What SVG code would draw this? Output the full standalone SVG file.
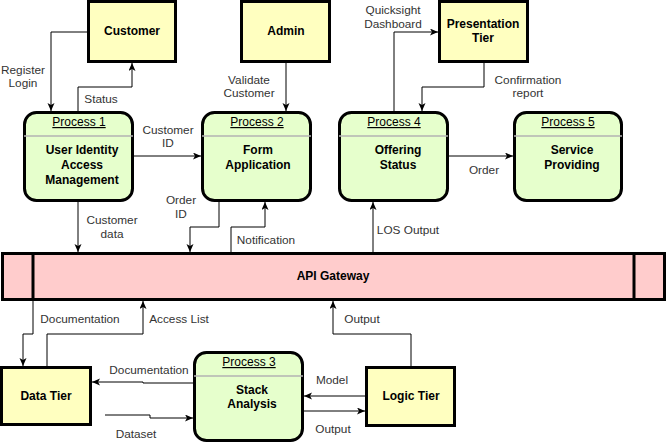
<svg xmlns="http://www.w3.org/2000/svg" width="667" height="447" viewBox="0 0 667 447">
<style>
.ext{fill:#FFFFC0;stroke:#000;stroke-width:3}
.proc{fill:#E6FFCC;stroke:#000;stroke-width:3}
.api{fill:#FFCCCC;stroke:#000;stroke-width:3}
.sep{stroke:#B3B3B3;stroke-width:1.5}
.nt{font-family:"Liberation Sans",Arial,sans-serif;font-size:12px;font-weight:bold;fill:#000;text-anchor:middle}
.hd{text-decoration:underline;font-weight:normal}
.lb{font-family:"Liberation Sans",Arial,sans-serif;font-size:11.8px;fill:#333;text-anchor:middle}
.ln{fill:none;stroke:#000;stroke-width:1;marker-end:url(#ar)}
</style>
<defs>
<marker id="ar" markerUnits="userSpaceOnUse" markerWidth="10" markerHeight="8" refX="8" refY="3.5" orient="auto">
<path d="M0,0 L8,3.5 L0,7 L2,3.5 z" fill="#000"/>
</marker>
</defs>
<g id="connectors">
<path class="ln" d="M87,32 H51 V111"/>
<path class="ln" d="M78,111 V87 H132 V63"/>
<path class="ln" d="M134,156 H201"/>
<path class="ln" d="M286,63 V111"/>
<path class="ln" d="M78,202 V252"/>
<path class="ln" d="M219,202 V227 H190 V252"/>
<path class="ln" d="M231,252 V227 H265 V202"/>
<path class="ln" d="M394,111 V32 H438"/>
<path class="ln" d="M484,63 V87 H422 V111"/>
<path class="ln" d="M449,156 H513"/>
<path class="ln" d="M373,252 V202"/>
<path class="ln" d="M33,301 V334 H23 V366"/>
<path class="ln" d="M47,366 V334 H143 V301"/>
<path class="ln" d="M193,383 H143 V382 H92"/>
<path class="ln" d="M105,415 H150 V418 H193"/>
<path class="ln" d="M365,396 H304"/>
<path class="ln" d="M304,411 H365"/>
<path class="ln" d="M411,366 V334 H333 V301"/>
<text class="lb" x="23" y="74">Register</text>
<text class="lb" x="23" y="87">Login</text>
<text class="lb" x="101" y="103">Status</text>
<text class="lb" x="168" y="134">Customer</text>
<text class="lb" x="168" y="147">ID</text>
<text class="lb" x="249" y="84">Validate</text>
<text class="lb" x="249" y="97">Customer</text>
<text class="lb" x="112" y="224">Customer</text>
<text class="lb" x="112" y="238">data</text>
<text class="lb" x="181" y="204">Order</text>
<text class="lb" x="181" y="218">ID</text>
<text class="lb" x="266" y="244">Notification</text>
<text class="lb" x="393" y="14">Quicksight</text>
<text class="lb" x="393" y="28">Dashboard</text>
<text class="lb" x="528" y="84">Confirmation</text>
<text class="lb" x="528" y="97">report</text>
<text class="lb" x="484" y="174">Order</text>
<text class="lb" x="408" y="234">LOS Output</text>
<text class="lb" x="80" y="323">Documentation</text>
<text class="lb" x="179" y="323">Access List</text>
<text class="lb" x="149" y="374">Documentation</text>
<text class="lb" x="136" y="438">Dataset</text>
<text class="lb" x="332" y="384">Model</text>
<text class="lb" x="333" y="433">Output</text>
<text class="lb" x="362" y="323">Output</text>
</g>
<g id="customer">
<rect class="ext" x="88.5" y="1.5" width="87" height="60"/>
<text class="nt" x="132" y="35">Customer</text>
</g>
<g id="admin">
<rect class="ext" x="241.5" y="1.5" width="88" height="60"/>
<text class="nt" x="286" y="35">Admin</text>
</g>
<g id="presentation-tier">
<rect class="ext" x="439.5" y="1.5" width="88" height="60"/>
<text class="nt" x="483" y="28">Presentation</text>
<text class="nt" x="483" y="42">Tier</text>
</g>
<g id="process1">
<rect class="proc" x="24.5" y="112.5" width="108" height="88" rx="12"/>
<line class="sep" x1="24" y1="136" x2="133" y2="136"/>
<text class="nt hd" x="79" y="126">Process 1</text>
<text class="nt" x="82" y="154">User Identity</text>
<text class="nt" x="82" y="169">Access</text>
<text class="nt" x="82" y="184">Management</text>
</g>
<g id="process2">
<rect class="proc" x="202.5" y="112.5" width="108" height="88" rx="12"/>
<line class="sep" x1="202" y1="136" x2="311" y2="136"/>
<text class="nt hd" x="257" y="126">Process 2</text>
<text class="nt" x="258" y="154">Form</text>
<text class="nt" x="258" y="169">Application</text>
</g>
<g id="process4">
<rect class="proc" x="339.5" y="112.5" width="108" height="88" rx="12"/>
<line class="sep" x1="339" y1="136" x2="448" y2="136"/>
<text class="nt hd" x="394" y="126">Process 4</text>
<text class="nt" x="398" y="154">Offering</text>
<text class="nt" x="398" y="169">Status</text>
</g>
<g id="process5">
<rect class="proc" x="514.5" y="112.5" width="107" height="88" rx="12"/>
<line class="sep" x1="514" y1="136" x2="622" y2="136"/>
<text class="nt hd" x="568" y="126">Process 5</text>
<text class="nt" x="572" y="154">Service</text>
<text class="nt" x="572" y="169">Providing</text>
</g>
<g id="api-gateway">
<rect class="api" x="2.5" y="253.5" width="662" height="46"/>
<line x1="33" y1="253" x2="33" y2="300" stroke="#000" stroke-width="3"/>
<line x1="634" y1="253" x2="634" y2="300" stroke="#000" stroke-width="3"/>
<text class="nt" x="333" y="280">API Gateway</text>
</g>
<g id="data-tier">
<rect class="ext" x="1.5" y="367.5" width="89" height="57"/>
<text class="nt" x="46" y="400">Data Tier</text>
</g>
<g id="process3">
<rect class="proc" x="194.5" y="352.5" width="108" height="88" rx="12"/>
<line class="sep" x1="194" y1="376" x2="303" y2="376"/>
<text class="nt hd" x="249" y="366">Process 3</text>
<text class="nt" x="252" y="394">Stack</text>
<text class="nt" x="252" y="408">Analysis</text>
</g>
<g id="logic-tier">
<rect class="ext" x="366.5" y="367.5" width="88" height="58"/>
<text class="nt" x="411" y="400">Logic Tier</text>
</g>
</svg>
